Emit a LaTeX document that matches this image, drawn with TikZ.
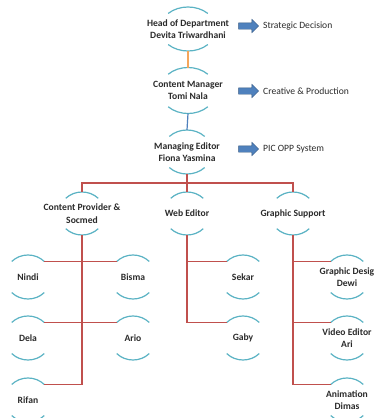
\documentclass[tikz,border=0pt]{standalone}
\usepackage{fontspec}
\setmainfont{Carlito}
\usetikzlibrary{calc,shapes.arrows}
\definecolor{arcc}{HTML}{5BB3C4}
\definecolor{redl}{HTML}{C0504D}
\definecolor{orl}{HTML}{F5A65B}
\definecolor{bluel}{HTML}{4F81BD}
\definecolor{txtc}{HTML}{2B2B2B}
\tikzset{
  txt/.style={text=txtc,align=center,inner sep=0pt,font=\fontsize{9.6}{12.5}\selectfont\bfseries},
  lbl/.style={text=txtc,anchor=west,inner sep=0pt,font=\fontsize{9.6}{11}\selectfont},
  arcst/.style={draw=arcc,line width=1.2pt},
  redline/.style={draw=redl,line width=1.3pt},
  blk/.style={single arrow,fill=bluel,draw=bluel!70!black,line width=0.4pt,minimum width=13pt,minimum height=20pt,single arrow head extend=3.5pt,single arrow head indent=0pt,inner xsep=0pt,inner ysep=3pt,text height=0pt,text depth=0pt}
}
\newcommand{\orgnode}[6]{%
  \node[txt] (#1) at (#2,-#3) {#6};
  \coordinate (#1-t) at ($(#1.center)+(0,#5)$);
  \coordinate (#1-b) at ($(#1.center)+(0,-#5)$);
  \coordinate (#1-tl) at ($(#1.center)+(135:#4 and #5)$);
  \coordinate (#1-tr) at ($(#1.center)+(45:#4 and #5)$);
  \coordinate (#1-bl) at ($(#1.center)+(225:#4 and #5)$);
  \draw[arcst] (#1-tl) arc[start angle=135,end angle=45,x radius=#4,y radius=#5];
  \draw[arcst] (#1-bl) arc[start angle=225,end angle=315,x radius=#4,y radius=#5];
}
\begin{document}
\begin{tikzpicture}[x=1pt,y=1pt]
\useasboundingbox (0,0) rectangle (374,-418);
\fill[white] (0,0) rectangle (374,-418);
% top chain
\orgnode{head}{188}{29}{28}{22}{Head of Department\\Devita Triwardhani}
\orgnode{cm}{188}{90.5}{28}{23}{Content Manager\\Tomi Nala}
\orgnode{me}{187}{152}{25}{22}{Managing Editor\\Fiona Yasmina}
\draw[draw=orl,line width=1.2pt] (head-b) -- (cm-t);
\draw[draw=bluel,line width=1.2pt] (cm-b) -- (me-t);
% side arrows
\node[blk] (a1) at (247,-26) {};
\node[blk] (a2) at (247,-91) {};
\node[blk] (a3) at (247,-149) {};
\node[lbl] (l1) at (263,-26) {Strategic Decision};
\node[lbl] (l2) at (263,-91) {Creative \& Production};
\node[lbl] (l3) at (263,-149) {PIC OPP System};
% level 2
\orgnode{cp}{82}{213.5}{23}{21.5}{Content Provider \&\\Socmed}
\orgnode{web}{187}{213.5}{23}{21.5}{Web Editor}
\orgnode{gs}{293}{213.5}{23}{21.5}{Graphic Support}
\coordinate (bar) at (187,-183);
\draw[redline] (me-b) -- (bar);
\draw[redline] (cp-t) |- (bar) -| (gs-t);
\draw[redline] (bar) -- (web-t);
% leaves
\orgnode{nindi}{28}{277}{23}{22}{Nindi}
\orgnode{bisma}{133}{277}{23}{22}{Bisma}
\orgnode{dela}{28}{338}{23}{22}{Dela}
\orgnode{ario}{133}{338}{23}{22}{Ario}
\orgnode{rifan}{28}{400}{23}{22}{Rifan}
\orgnode{sekar}{243}{277}{23}{22}{Sekar}
\orgnode{gaby}{243}{338}{23}{22}{Gaby}
\orgnode{gd}{347}{277}{23}{22}{Graphic Desig\\Dewi}
\orgnode{ve}{347}{338}{23}{22}{Video Editor\\Ari}
\orgnode{an}{347}{400}{23}{22}{Animation\\Dimas}
\draw[redline] (cp-b) |- (rifan-tr);
\draw[redline] (nindi-tr) -- (bisma-tl);
\draw[redline] (dela-tr) -- (ario-tl);
\draw[redline] (web-b) |- (gaby-tl);
\draw[redline] (web-b |- sekar-tl) -- (sekar-tl);
\draw[redline] (gs-b) |- (an-tl);
\draw[redline] (gs-b |- gd-tl) -- (gd-tl);
\draw[redline] (gs-b |- ve-tl) -- (ve-tl);
\end{tikzpicture}
\end{document}
